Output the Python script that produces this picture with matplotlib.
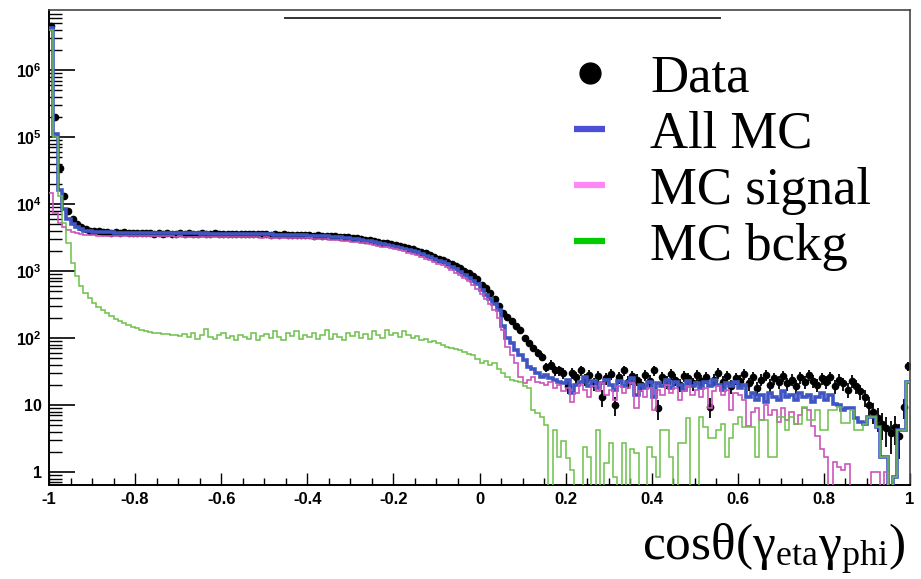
import matplotlib

matplotlib.use("Agg")
import matplotlib.pyplot as plt
import numpy as np
from matplotlib.lines import Line2D
from matplotlib.ticker import FuncFormatter, LogLocator, MultipleLocator, NullFormatter

FIG_W, FIG_H = 921, 579

# 200 bins of width 0.01 in cos(theta)
BIN_EDGES = np.linspace(-1.0, 1.0, 201)

DATA = [
    4500000, 200000, 35000, 13000, 8000, 6000, 5000, 4500, 4200, 4000,
    3900, 3950, 3800, 3870, 3760, 3820, 3700, 3780, 3690, 3750,
    3660, 3720, 3640, 3700, 3610, 3680, 3590, 3660, 3620, 3580,
    3650, 3600, 3680, 3620, 3590, 3660, 3610, 3570, 3640, 3600,
    3580, 3630, 3560, 3610, 3570, 3540, 3600, 3550, 3520, 3570,
    3530, 3500, 3550, 3480, 3520, 3470, 3490, 3450, 3430, 3460,
    3410, 3390, 3400, 3360, 3340, 3320, 3290, 3260, 3230, 3180,
    3130, 3080, 3020, 2960, 2890, 2810, 2740, 2660, 2590, 2510,
    2430, 2350, 2270, 2190, 2100, 2020, 1930, 1840, 1740, 1640,
    1540, 1450, 1370, 1280, 1190, 1100, 1010, 930, 850, 760,
    620, 550, 470, 380, 300, 240, 205, 180, 150, 131,
    100, 84, 70, 60, 52, 37, 40, 33, 33, 30,
    19, 30, 26, 33, 24, 28, 21, 27, 13, 25,
    29, 10, 26, 33, 22, 27, 24, 20, 28, 23,
    33, 9, 26, 22, 29, 24, 20, 27, 25, 21,
    28, 23, 26, 9.5, 24, 30, 22, 27, 19, 25,
    23, 29, 21, 26, 18, 24, 28, 20, 25, 22,
    27, 21, 24, 19, 26, 22, 28, 23, 20, 25,
    22, 26, 19, 24, 21, 17, 23, 19, 16, 13,
    10, 8, 6.5, 5.3, 4.5, 3.8, 4.7, 3.4, 9.3, 38,
]

ALL_MC = [
    4200000, 110000, 16000, 8500, 6000, 5000, 4500, 4200, 4000, 3900,
    3850, 3820, 3800, 3780, 3770, 3750, 3760, 3740, 3730, 3720,
    3710, 3720, 3700, 3690, 3700, 3680, 3690, 3670, 3680, 3660,
    3670, 3650, 3660, 3640, 3650, 3630, 3640, 3620, 3630, 3610,
    3600, 3610, 3590, 3580, 3590, 3570, 3560, 3570, 3550, 3540,
    3530, 3520, 3510, 3500, 3480, 3470, 3450, 3440, 3420, 3400,
    3380, 3360, 3340, 3310, 3290, 3260, 3230, 3190, 3150, 3100,
    3050, 2990, 2920, 2850, 2780, 2700, 2620, 2540, 2460, 2380,
    2300, 2220, 2140, 2060, 1980, 1900, 1800, 1700, 1600, 1500,
    1420, 1360, 1260, 1160, 1060, 960, 880, 800, 720, 640,
    520, 440, 380, 320, 260, 150, 100, 85, 66, 56,
    47, 37, 34, 30, 26, 28, 25, 24, 22, 21,
    24, 15, 20, 22, 26, 19, 23, 18, 21, 24,
    20, 17, 23, 19, 22, 25, 14, 20, 18, 22,
    13, 21, 19, 24, 18, 22, 20, 17, 23, 19,
    21, 18, 22, 19, 24, 20, 17, 21, 19, 22,
    18, 20, 13, 15, 12, 14, 11, 15, 13, 12,
    16, 13, 14, 12, 15, 13, 14, 11, 13, 15,
    12, 14, 10.5, 10, 8.5, 9, 9, 6.5, 5.5, 5.3,
    6.7, 6.7, 4.7, 1.7, 1.7, 0, 0.85, 4.2, 4.2, 22,
]

MC_SIGNAL = [
    14500, 7300, 5200, 4500, 4100, 3800, 3650, 3550, 3480, 3420,
    3400, 3380, 3390, 3360, 3370, 3350, 3360, 3340, 3350, 3330,
    3340, 3320, 3330, 3310, 3320, 3300, 3310, 3290, 3300, 3280,
    3290, 3270, 3280, 3260, 3270, 3250, 3260, 3240, 3250, 3230,
    3240, 3220, 3230, 3210, 3220, 3200, 3190, 3200, 3180, 3170,
    3180, 3160, 3150, 3160, 3140, 3130, 3140, 3110, 3100, 3080,
    3070, 3050, 3030, 3010, 2990, 2960, 2930, 2890, 2850, 2800,
    2760, 2710, 2650, 2590, 2530, 2460, 2390, 2320, 2250, 2180,
    2110, 2040, 1960, 1880, 1800, 1720, 1630, 1540, 1440, 1350,
    1280, 1250, 1150, 1050, 950, 860, 780, 700, 620, 540,
    450, 380, 320, 260, 200, 131, 73, 55, 42, 26,
    21, 24, 26, 22, 21, 20, 22, 18, 20, 16,
    18, 11, 15, 20, 17, 13, 19, 16, 21, 14,
    17, 12, 19, 15, 18, 21, 9, 16, 13, 18,
    8.4, 17, 14, 20, 15, 18, 12, 16, 19, 14,
    17, 13, 18, 9, 16, 19, 14, 17, 8.4, 15,
    14, 12, 4.8, 8, 9, 6, 10, 7, 8.4, 5.5,
    9, 6, 8, 5.3, 7, 9, 8.4, 4.8, 3.5, 2.2,
    1.7, 0, 1.4, 1.2, 1.07, 1.3, 0, 0, 0, 0,
    0, 1.0, 1.0, 0, 1.0, 0, 0, 0, 0, 0,
]

MC_BCKG = [
    4000000, 100000, 13000, 5200, 2600, 1300, 850, 600, 470, 390,
    330, 290, 260, 235, 215, 195, 180, 167, 158, 148,
    140, 132, 128, 124, 120, 118, 115, 113, 112, 110,
    108, 115, 102, 120, 98, 112, 138, 104, 96, 110,
    118, 100, 106, 95, 112, 104, 98, 121, 92, 108,
    115, 99, 126, 104, 94, 118, 108, 128, 97, 112,
    102, 121, 96, 110, 130, 98, 115, 104, 92, 118,
    107, 124, 100, 113, 96, 128, 110, 99, 134, 112,
    118, 105, 126, 110, 100, 106, 95, 98, 88, 90,
    84, 78, 74, 72, 68, 66, 62, 58, 55, 48,
    42, 45, 40, 42, 34, 30, 26, 24, 23, 22,
    19, 18, 8.4, 7.5, 6.6, 5.0, 0, 4.2, 1.7, 2.9,
    1.6, 1.07, 0, 0, 2.4, 1.7, 0, 4.2, 0, 1.35,
    2.7, 0.85, 0, 2.7, 0, 2.2, 1.9, 0, 0, 2.4,
    1.7, 0.85, 4.2, 4.2, 1.7, 0, 2.7, 2.7, 6.4, 0,
    0, 6.7, 4.7, 3.2, 3.2, 4.2, 5.3, 1.7, 3.2, 5.3,
    6.7, 4.7, 4.7, 4.7, 1.7, 6.0, 6.0, 1.7, 1.7, 6.6,
    6.6, 4.2, 6.7, 5.3, 5.3, 9.3, 6.0, 6.0, 8.4, 4.2,
    4.2, 8.4, 8.4, 9.3, 5.4, 5.4, 8.4, 4.2, 4.2, 5.3,
    6.7, 6.7, 4.7, 1.7, 1.7, 0, 0.85, 4.2, 4.2, 22,
]

LEGEND_LABELS = ["Data", "All MC", "MC signal", "MC bckg"]
LEGEND_COLORS = ["black", "#4a4fd6", "#ff88f6", "#00cc00"]

Y_LABELS = {
    1: "1",
    10: "10",
    100: r"$\mathbf{10^{2}}$",
    1000: r"$\mathbf{10^{3}}$",
    10000: r"$\mathbf{10^{4}}$",
    100000: r"$\mathbf{10^{5}}$",
    1000000: r"$\mathbf{10^{6}}$",
}


def px(x, y):
    """pixel position (from top-left) -> figure fraction"""
    return x / FIG_W, 1 - y / FIG_H


def x_label(v, _):
    if abs(v) < 1e-9:
        return "0"
    return f"{round(v, 1):g}"


def main() -> None:
    plt.rcParams.update({
        "font.family": ["Liberation Sans", "DejaVu Sans"],
        "mathtext.fontset": "custom",
        "mathtext.rm": "Liberation Serif",
        "mathtext.it": "Liberation Serif:italic",
        "mathtext.bf": "Liberation Sans:bold",
    })

    fig = plt.figure(figsize=(FIG_W / 100, FIG_H / 100), dpi=100)
    left, bottom = px(49, 485)
    right, top = px(910, 10)
    ax = fig.add_axes([left, bottom, right - left, top - bottom])

    centers = 0.5 * (BIN_EDGES[:-1] + BIN_EDGES[1:])
    data = np.array(DATA, dtype=float)
    ax.errorbar(centers, data, yerr=np.sqrt(data), xerr=0.005, fmt="o", ms=4.5,
                color="black", ecolor="black", elinewidth=1.3, capsize=0, zorder=2)

    ax.stairs(ALL_MC, BIN_EDGES, baseline=None, color="#4055c4", lw=2.6, zorder=3)
    ax.stairs(MC_SIGNAL, BIN_EDGES, baseline=None, color="#cc55bb", lw=1.2, zorder=4)
    ax.stairs(MC_BCKG, BIN_EDGES, baseline=None, color="#6cc04a", lw=1.1, zorder=5)

    ax.set_yscale("log", nonpositive="clip")
    ax.set_xlim(-1, 1)
    ax.set_ylim(0.64, 7.9e6)

    ax.xaxis.set_major_locator(MultipleLocator(0.2))
    ax.xaxis.set_minor_locator(MultipleLocator(0.05))
    ax.xaxis.set_major_formatter(FuncFormatter(x_label))
    ax.yaxis.set_major_locator(LogLocator(base=10, numticks=20))
    ax.yaxis.set_minor_locator(LogLocator(base=10, subs=np.arange(2, 10), numticks=20))
    ax.yaxis.set_major_formatter(FuncFormatter(lambda v, _: Y_LABELS.get(int(round(v)), "")))
    ax.yaxis.set_minor_formatter(NullFormatter())

    ax.tick_params(axis="x", which="major", direction="in", length=8.5, width=1.0, pad=5,
                   top=False, labelsize=12)
    ax.tick_params(axis="x", which="minor", direction="in", length=5, width=1.0, top=False)
    ax.tick_params(axis="y", which="major", direction="in", length=19, width=1.2, pad=5,
                   right=False, labelsize=11.5)
    ax.tick_params(axis="y", which="minor", direction="in", length=9.5, width=1.0, right=False)
    for label in ax.get_xticklabels() + ax.get_yticklabels():
        label.set_fontweight("bold")
    for side in ["left", "bottom"]:
        ax.spines[side].set_linewidth(1.4)
    for side in ["top", "right"]:
        ax.spines[side].set_linewidth(1.2)
        ax.spines[side].set_color("#444444")

    # leftover title-box line above the frame
    x0, yl = px(285, 18)
    x1, _ = px(720, 18)
    fig.add_artist(Line2D([x0, x1], [yl, yl], transform=fig.transFigure, color="#333333", lw=1.4))

    # legend drawn by hand, ROOT style
    for i, (label, color) in enumerate(zip(LEGEND_LABELS, LEGEND_COLORS)):
        base = 92 + 56 * i
        tx, ty = px(650, base)
        fig.text(tx, ty, label, family="Liberation Serif", fontsize=38, ha="left", va="baseline")
        sx0, sy = px(574, base - 19)
        sx1, _ = px(605, base - 19)
        if i == 0:
            fig.add_artist(Line2D([(sx0 + sx1) / 2], [sy], transform=fig.transFigure, marker="o",
                                  ms=15, color=color, lw=0))
        else:
            fig.add_artist(Line2D([sx0, sx1], [sy, sy], transform=fig.transFigure, color=color, lw=4.5,
                                  solid_capstyle="butt"))

    lx, ly = px(905, 560)
    fig.text(lx, ly, r"cos$\mathrm{\theta(\gamma_{eta}\gamma_{phi})}$", family="Liberation Serif",
             fontsize=37, ha="right", va="baseline")

    fig.savefig("out.png", dpi=100)
    plt.close(fig)


if __name__ == "__main__":
    main()
